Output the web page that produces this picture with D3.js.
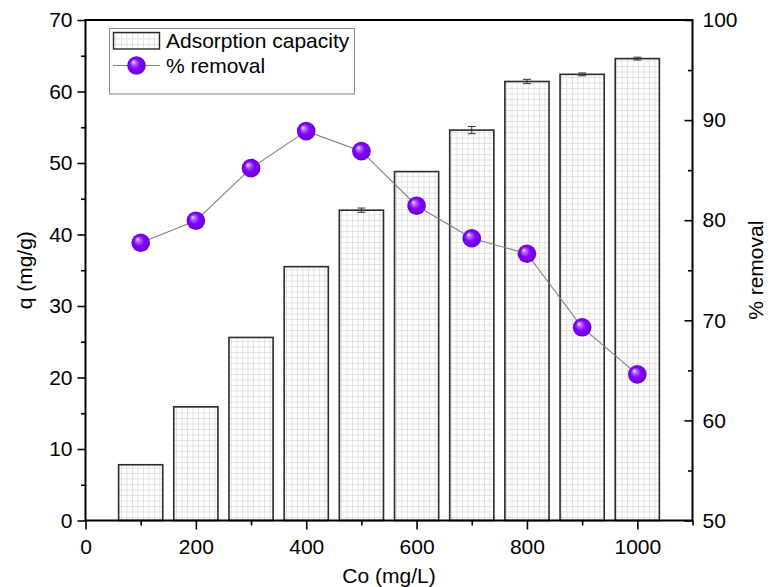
<!DOCTYPE html>
<html>
<head>
<meta charset="utf-8">
<script src="https://cdn.jsdelivr.net/npm/d3@7"></script>
<style>
  body { margin: 0; background: #fff; }
  svg { display: block; }
  text { font-family: "Liberation Sans", Arial, sans-serif; fill: #000; }
</style>
</head>
<body>
<svg id="chart" width="773" height="587"></svg>
<script>
// Initial concentration (mg/L)
const concentrations = [100, 200, 300, 400, 500, 600, 700, 800, 900, 1000];
// Adsorption capacity q (mg/g) and its error
const capacity = [7.8, 15.9, 25.6, 35.5, 43.4, 48.8, 54.6, 61.4, 62.4, 64.6];
const capacityError = [0, 0, 0, 0, 0.3, 0, 0.5, 0.3, 0.2, 0.2];
// Removal efficiency (%)
const removal = [77.75, 79.95, 85.2, 88.9, 86.9, 81.45, 78.2, 76.65, 69.3, 64.6];

const xTicks = [0, 200, 400, 600, 800, 1000];
const xMinorTicks = [100, 300, 500, 700, 900, 1100];
const leftTicks = [0, 10, 20, 30, 40, 50, 60, 70];
const leftMinorTicks = [5, 15, 25, 35, 45, 55, 65];
const rightTicks = [50, 60, 70, 80, 90, 100];
const rightMinorTicks = [55, 65, 75, 85, 95];

const FONT = 21;
const svg = d3.select("#chart");
const L = 85.5, R = 692.5, T = 20, B = 520.5;

const x = d3.scaleLinear().domain([0, 1100]).range([L, R]);
const yL = d3.scaleLinear().domain([0, 70]).range([B, T]);
const yR = d3.scaleLinear().domain([50, 100]).range([B, T]);
const barWidth = x(80) - x(0);

// Fill pattern and sphere shading
const defs = svg.append("defs");
const pat = defs.append("pattern")
  .attr("id", "gridFill")
  .attr("patternUnits", "userSpaceOnUse")
  .attr("width", 5.5).attr("height", 5.5);
pat.append("rect").attr("width", 5.5).attr("height", 5.5).attr("fill", "#fff");
pat.append("path").attr("d", "M0,0.4H5.5M0.4,0V5.5")
  .attr("stroke", "#d9d9d9").attr("stroke-width", 0.8);

const grad = defs.append("radialGradient")
  .attr("id", "sphere")
  .attr("cx", "50%").attr("cy", "50%").attr("r", "50%")
  .attr("fx", "32%").attr("fy", "30%");
grad.append("stop").attr("offset", "0%").attr("stop-color", "#f4eaff");
grad.append("stop").attr("offset", "22%").attr("stop-color", "#b36bff");
grad.append("stop").attr("offset", "55%").attr("stop-color", "#8200ff");
grad.append("stop").attr("offset", "100%").attr("stop-color", "#6a00d8");

// Bars
svg.append("g").selectAll("rect")
  .data(concentrations)
  .join("rect")
  .attr("x", (d) => x(d) - barWidth / 2)
  .attr("y", (d, i) => yL(capacity[i]))
  .attr("width", barWidth)
  .attr("height", (d, i) => B - yL(capacity[i]))
  .attr("fill", "url(#gridFill)")
  .attr("stroke", "#2a2a2a")
  .attr("stroke-width", 1.6);

// Error bars on the bars
const errG = svg.append("g").attr("stroke", "#333").attr("stroke-width", 1);
concentrations.forEach((c, i) => {
  const e = capacityError[i];
  if (!e) return;
  const cx = x(c), y0 = yL(capacity[i] - e), y1 = yL(capacity[i] + e);
  errG.append("line").attr("x1", cx).attr("x2", cx).attr("y1", y0).attr("y2", y1);
  errG.append("line").attr("x1", cx - 4).attr("x2", cx + 4).attr("y1", y0).attr("y2", y0);
  errG.append("line").attr("x1", cx - 4).attr("x2", cx + 4).attr("y1", y1).attr("y2", y1);
});

// Removal line and markers
const line = d3.line()
  .x((d) => x(d))
  .y((d, i) => yR(removal[i]));
svg.append("path")
  .datum(concentrations)
  .attr("d", line)
  .attr("fill", "none")
  .attr("stroke", "#808080")
  .attr("stroke-width", 1.1);

svg.append("g").selectAll("circle")
  .data(concentrations)
  .join("circle")
  .attr("cx", (d) => x(d))
  .attr("cy", (d, i) => yR(removal[i]))
  .attr("r", 9.3)
  .attr("fill", "url(#sphere)");

// Axes
function styleAxis(g) {
  g.select(".domain").remove();
  g.selectAll(".tick line").attr("stroke", "#000").attr("stroke-width", 1.6);
  g.selectAll(".tick text").attr("font-size", FONT).attr("font-family", "Liberation Sans, Arial, sans-serif");
}
const fmt = d3.format("d");

svg.append("g").attr("transform", `translate(0,${B})`)
  .call(d3.axisBottom(x).tickValues(xTicks).tickFormat(fmt).tickSize(9).tickPadding(10))
  .call(styleAxis);
svg.append("g").attr("transform", `translate(0,${B})`)
  .call(d3.axisBottom(x).tickValues(xMinorTicks).tickSize(5).tickFormat(""))
  .call(styleAxis);

svg.append("g").attr("transform", `translate(${L},0)`)
  .call(d3.axisLeft(yL).tickValues(leftTicks).tickFormat(fmt).tickSize(8).tickPadding(5))
  .call(styleAxis);
svg.append("g").attr("transform", `translate(${L},0)`)
  .call(d3.axisLeft(yL).tickValues(leftMinorTicks).tickSize(4.5).tickFormat(""))
  .call(styleAxis);

svg.append("g").attr("transform", `translate(${R},0)`)
  .call(d3.axisRight(yR).tickValues(rightTicks).tickFormat(fmt).tickSize(-8).tickPadding(10))
  .call(styleAxis);
svg.append("g").attr("transform", `translate(${R},0)`)
  .call(d3.axisRight(yR).tickValues(rightMinorTicks).tickSize(-4.5).tickFormat(""))
  .call(styleAxis);

// Plot frame
svg.append("rect")
  .attr("x", L).attr("y", T)
  .attr("width", R - L).attr("height", B - T)
  .attr("fill", "none").attr("stroke", "#000").attr("stroke-width", 2);

// Axis titles
svg.append("text")
  .attr("x", (L + R) / 2).attr("y", 583)
  .attr("text-anchor", "middle").attr("font-size", FONT)
  .text("Co (mg/L)");
svg.append("text")
  .attr("transform", `translate(32,${(T + B) / 2}) rotate(-90)`)
  .attr("text-anchor", "middle").attr("font-size", FONT)
  .text("q (mg/g)");
svg.append("text")
  .attr("transform", `translate(763,${(T + B) / 2}) rotate(-90)`)
  .attr("text-anchor", "middle").attr("font-size", FONT)
  .text("% removal");

// Legend
const lg = svg.append("g");
lg.append("rect")
  .attr("x", 109.5).attr("y", 28.5).attr("width", 245).attr("height", 65.5)
  .attr("fill", "#fff").attr("stroke", "#888").attr("stroke-width", 1);
lg.append("rect")
  .attr("x", 113.5).attr("y", 32.5).attr("width", 46).attr("height", 16.5)
  .attr("fill", "url(#gridFill)").attr("stroke", "#2a2a2a").attr("stroke-width", 1.4);
lg.append("text").attr("x", 166).attr("y", 48).attr("font-size", FONT).text("Adsorption capacity");
lg.append("line")
  .attr("x1", 113).attr("x2", 160).attr("y1", 65.5).attr("y2", 65.5)
  .attr("stroke", "#808080").attr("stroke-width", 1.1);
lg.append("circle").attr("cx", 136.5).attr("cy", 65.5).attr("r", 9.3).attr("fill", "url(#sphere)");
lg.append("text").attr("x", 166).attr("y", 73).attr("font-size", FONT).text("% removal");
</script>
</body>
</html>
